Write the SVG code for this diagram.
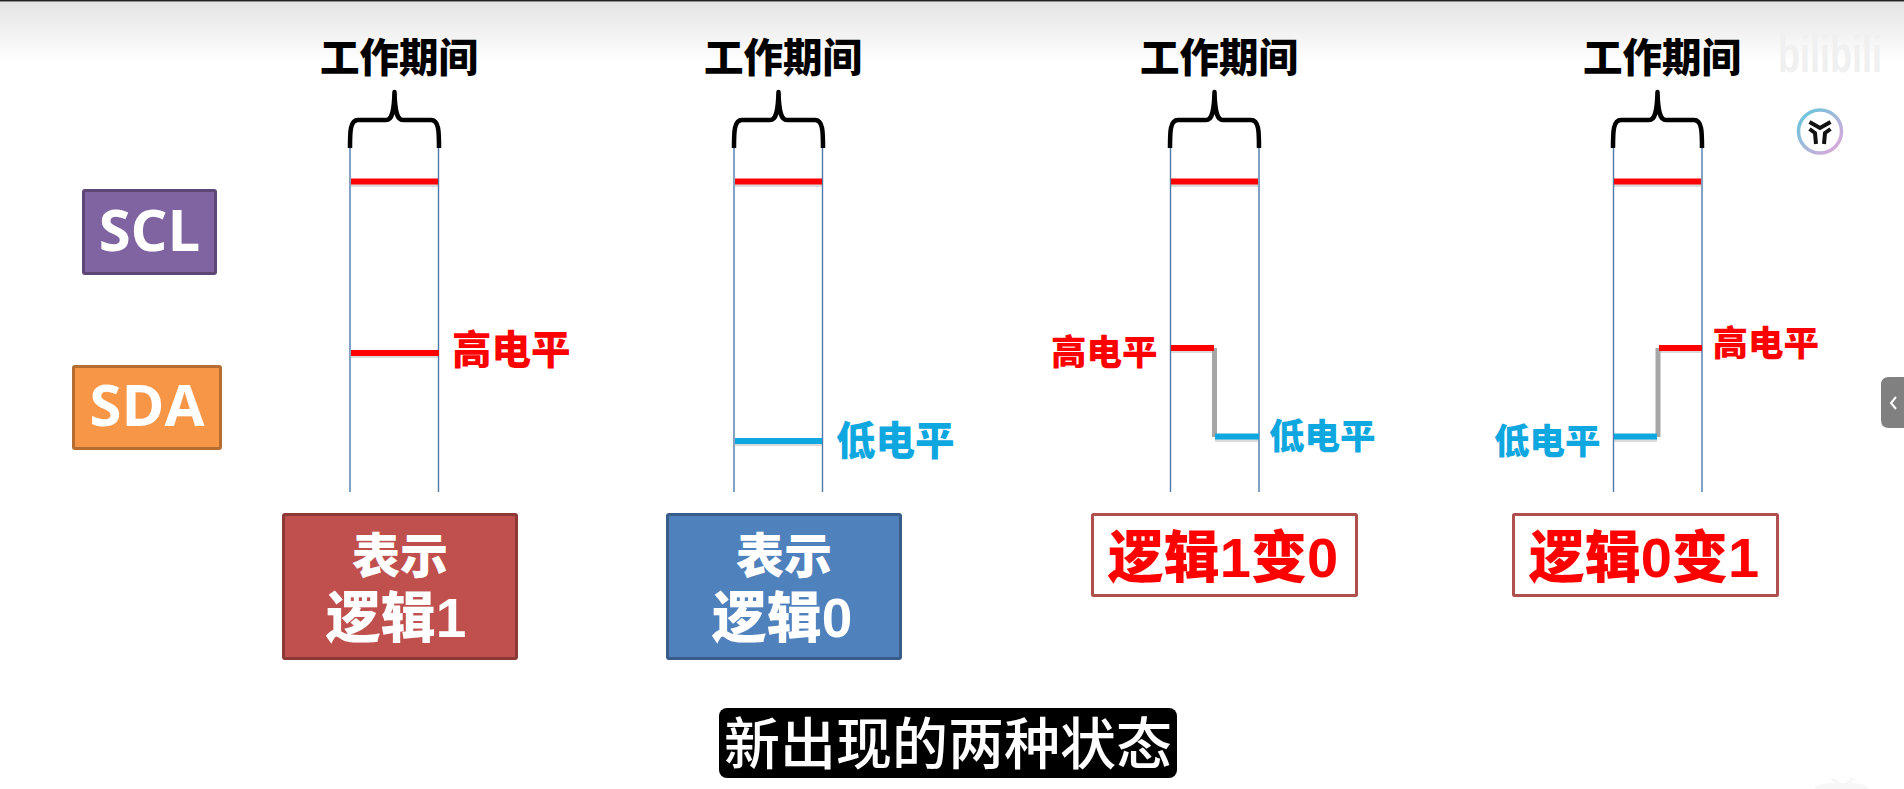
<svg xmlns="http://www.w3.org/2000/svg" width="1904" height="789" viewBox="0 0 1904 789">
<style>
text{font-family:"Liberation Sans","Noto Sans CJK SC",sans-serif;font-weight:900}
.title{font-size:39.500px;fill:#000;text-anchor:middle}
.hi{fill:#f00}
.lo{fill:#0fa7e0}
.guide{stroke:#4f79a8;stroke-width:1.4;fill:none}
.brace{stroke:#000;stroke-width:4.500;fill:none}
.sig{stroke-width:6;fill:none}
.shadow{stroke:#999;stroke-width:3;opacity:.35;fill:none}
.mid{stroke:#a6a6a6;stroke-width:5;fill:none}
.w{fill:#fff;text-anchor:middle}
.logic{fill:#f00;font-size:56px;text-anchor:middle}
.lat{font-family:"Open Sans","Noto Sans",sans-serif;font-weight:700;fill:#fff;text-anchor:middle;font-size:58px}
</style>
<defs>
<linearGradient id="top" x1="0" y1="0" x2="0" y2="1"><stop offset="0" stop-color="#e4e4e4"/><stop offset="1" stop-color="#fff"/></linearGradient>
<linearGradient id="ring" x1="0" y1="0" x2="1" y2="1"><stop offset="0" stop-color="#5fc8dc"/><stop offset="1" stop-color="#e6a6d8"/></linearGradient>
<path id="br" d="M0 148C0 132 0 120 8 120H36C42 120 44 112 44.500 92C45 112 47 120 53 120H81C89 120 89 132 89 148" class="brace" stroke-linejoin="round"/>
</defs>
<rect width="1904" height="789" fill="#fff"/>
<rect y="2" width="1904" height="60" fill="url(#top)"/>
<rect width="1904" height="1.500" fill="#222"/>

<g id="connectors">
<g id="col1-lines">
<path class="guide" d="M350 148V492M438.500 148V492"/>
<use href="#br" x="350"/>
<path class="shadow" d="M351 185.500H438M351 356.500H438"/>
<path class="sig" stroke="#f00" d="M351 181.500H438M351 353H439"/>
</g>
<g id="col2-lines">
<path class="guide" d="M734 148V492M822.500 148V492"/>
<use href="#br" x="734"/>
<path class="shadow" d="M735 185.500H822M735 444.500H822"/>
<path class="sig" stroke="#f00" d="M735 181.500H822"/>
<path class="sig" stroke="#0fa7e0" d="M735 441H822"/>
</g>
<g id="col3-lines">
<path class="guide" d="M1170.500 148V492M1259 148V492"/>
<use href="#br" x="1170"/>
<path class="shadow" d="M1171 185.500H1258M1171 351.500H1214M1215 440.500H1258"/>
<path class="mid" d="M1214.500 348V437"/>
<path class="sig" stroke="#f00" d="M1171 181.500H1258M1171 348H1214"/>
<path class="sig" stroke="#0fa7e0" d="M1215 436.500H1259"/>
</g>
<g id="col4-lines">
<path class="guide" d="M1613.500 148V492M1702 148V492"/>
<use href="#br" x="1613"/>
<path class="shadow" d="M1614 185.500H1701M1659 351.500H1702M1614 440.500H1657"/>
<path class="mid" d="M1658 348V437"/>
<path class="sig" stroke="#f00" d="M1614 181.500H1701M1659 348H1702"/>
<path class="sig" stroke="#0fa7e0" d="M1614 436.500H1657"/>
</g>
</g>

<g id="scl"><rect x="83.500" y="190.500" width="132" height="83" rx="1.500" fill="#8064a2" stroke="#5c4776" stroke-width="3"/><text class="lat" x="149.500" y="251">SCL</text></g>
<g id="sda"><rect x="73.500" y="366.500" width="147" height="82" rx="1.500" fill="#f79646" stroke="#b66d31" stroke-width="3"/><text class="lat" x="147" y="426">SDA</text></g>

<g id="title1"><text class="title" x="399" y="72">工作期间</text></g>
<g id="title2"><text class="title" x="783" y="72">工作期间</text></g>
<g id="title3"><text class="title" x="1219" y="72">工作期间</text></g>
<g id="title4"><text class="title" x="1662" y="72">工作期间</text></g>

<g id="l1"><text class="hi" font-size="39.500" x="452" y="364">高电平</text></g>
<g id="l2"><text class="lo" font-size="39.500" x="836" y="455">低电平</text></g>
<g id="l3h"><text class="hi" font-size="35.500" x="1051" y="365">高电平</text></g>
<g id="l3l"><text class="lo" font-size="35.500" x="1269" y="449">低电平</text></g>
<g id="l4h"><text class="hi" font-size="35.500" x="1712.500" y="356">高电平</text></g>
<g id="l4l"><text class="lo" font-size="35.500" x="1494" y="454">低电平</text></g>

<g id="box1"><rect x="283.500" y="514.500" width="233" height="144" rx="1.500" fill="#c0504d" stroke="#8c3836" stroke-width="3"/><text class="w" font-size="48" x="400" y="573">表示</text><text class="w" font-size="55" x="396" y="637">逻辑1</text></g>
<g id="box2"><rect x="667.500" y="514.500" width="233" height="144" rx="1.500" fill="#4f81bd" stroke="#385d8a" stroke-width="3"/><text class="w" font-size="48" x="784" y="573">表示</text><text class="w" font-size="55" x="782" y="637">逻辑0</text></g>
<g id="box3"><rect x="1092.500" y="514.500" width="264" height="81" rx="1" fill="#fff" stroke="#b0504e" stroke-width="3"/><text class="logic" x="1223" y="577">逻辑1变0</text></g>
<g id="box4"><rect x="1513.500" y="514.500" width="264" height="81" rx="1" fill="#fff" stroke="#b0504e" stroke-width="3"/><text class="logic" x="1644" y="577">逻辑0变1</text></g>

<g id="subtitle"><rect x="719" y="708" width="458" height="70" rx="8" fill="#000"/><text x="948" y="764" font-size="56" fill="#fff" text-anchor="middle" style="font-weight:500">新出现的两种状态</text></g>

<g id="overlay">
<text transform="translate(1778 72) scale(1 1.450)" font-size="36" fill="#f0f0f0">bilibili</text>
<circle cx="1820" cy="131.500" r="21.500" fill="#fff" stroke="url(#ring)" stroke-width="3.500"/>
<path d="M1809.500 122L1820 128L1830.500 122M1809.500 129L1815 133L1816 144M1830.500 129L1825 133L1824 144" fill="none" stroke="#111" stroke-width="4"/>
<path d="M1904 377H1889Q1881 377 1881 385V420Q1881 428 1889 428H1904Z" fill="#808080"/>
<path d="M1896 397L1891 403L1896 409" fill="none" stroke="#fff" stroke-width="2"/>
<path d="M1815 789V787Q1820 783 1834 783L1830 779L1834 778L1840 783H1846L1851 778L1855 779L1851 783Q1862 783 1868 787V789Z" fill="#f7f7f7"/>
</g>
</svg>
